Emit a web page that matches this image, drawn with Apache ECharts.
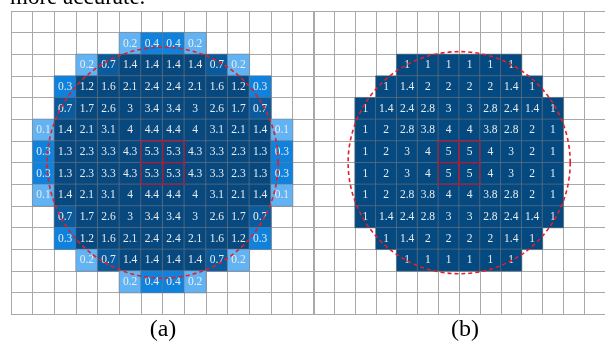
<!DOCTYPE html>
<html>
<head>
<meta charset="utf-8">
<script src="https://cdn.jsdelivr.net/npm/echarts@6/dist/echarts.min.js"></script>
<style>html,body{margin:0;padding:0;background:#fff;}#c{width:605px;height:342px;}</style>
</head>
<body>
<div id="c"></div>
<script>
// Grid categories (14 x 14 cells in each panel)
const cols = ['0','1','2','3','4','5','6','7','8','9','10','11','12','13'];
const rows = ['0','1','2','3','4','5','6','7','8','9','10','11','12','13'];
const _ = null;
// Panel (a) values, row by row (top to bottom)
const a00 = [_,_,_,_,_,_,_,_,_,_,_,_,_,_];
const a01 = [_,_,_,_,_,0.2,0.4,0.4,0.2,_,_,_,_,_];
const a02 = [_,_,_,0.2,0.7,1.4,1.4,1.4,1.4,0.7,0.2,_,_,_];
const a03 = [_,_,0.3,1.2,1.6,2.1,2.4,2.4,2.1,1.6,1.2,0.3,_,_];
const a04 = [_,_,0.7,1.7,2.6,3,3.4,3.4,3,2.6,1.7,0.7,_,_];
const a05 = [_,0.1,1.4,2.1,3.1,4,4.4,4.4,4,3.1,2.1,1.4,0.1,_];
const a06 = [_,0.3,1.3,2.3,3.3,4.3,5.3,5.3,4.3,3.3,2.3,1.3,0.3,_];
const a07 = [_,0.3,1.3,2.3,3.3,4.3,5.3,5.3,4.3,3.3,2.3,1.3,0.3,_];
const a08 = [_,0.1,1.4,2.1,3.1,4,4.4,4.4,4,3.1,2.1,1.4,0.1,_];
const a09 = [_,_,0.7,1.7,2.6,3,3.4,3.4,3,2.6,1.7,0.7,_,_];
const a10 = [_,_,0.3,1.2,1.6,2.1,2.4,2.4,2.1,1.6,1.2,0.3,_,_];
const a11 = [_,_,_,0.2,0.7,1.4,1.4,1.4,1.4,0.7,0.2,_,_,_];
const a12 = [_,_,_,_,_,0.2,0.4,0.4,0.2,_,_,_,_,_];
const a13 = [_,_,_,_,_,_,_,_,_,_,_,_,_,_];
// Panel (b) values
const b00 = [_,_,_,_,_,_,_,_,_,_,_,_,_,_];
const b01 = [_,_,_,_,_,_,_,_,_,_,_,_,_,_];
const b02 = [_,_,_,_,1,1,1,1,1,1,_,_,_,_];
const b03 = [_,_,_,1,1.4,2,2,2,2,1.4,1,_,_,_];
const b04 = [_,_,1,1.4,2.4,2.8,3,3,2.8,2.4,1.4,1,_,_];
const b05 = [_,_,1,2,2.8,3.8,4,4,3.8,2.8,2,1,_,_];
const b06 = [_,_,1,2,3,4,5,5,4,3,2,1,_,_];
const b07 = [_,_,1,2,3,4,5,5,4,3,2,1,_,_];
const b08 = [_,_,1,2,2.8,3.8,4,4,3.8,2.8,2,1,_,_];
const b09 = [_,_,1,1.4,2.4,2.8,3,3,2.8,2.4,1.4,1,_,_];
const b10 = [_,_,_,1,1.4,2,2,2,2,1.4,1,_,_,_];
const b11 = [_,_,_,_,1,1,1,1,1,1,_,_,_,_];
const b12 = [_,_,_,_,_,_,_,_,_,_,_,_,_,_];
const b13 = [_,_,_,_,_,_,_,_,_,_,_,_,_,_];
// Highlighted centre cells [col,row]
const centreCells = [[6,6],[7,6],[6,7],[7,7]];
// Dashed circle: centre (in cell units) and radius (cells)
const circleSpec = [[6.5, 6.5, 5.33]];
const panelLabels = ['(a)', '(b)'];
const topText = 'more accurate.';

const gridA = [a00,a01,a02,a03,a04,a05,a06,a07,a08,a09,a10,a11,a12,a13];
const gridB = [b00,b01,b02,b03,b04,b05,b06,b07,b08,b09,b10,b11,b12,b13];
function toData(g){
  const out=[];
  g.forEach((r,ri)=>r.forEach((v,ci)=>{ if(v!==null) out.push([ci,ri,v]); }));
  return out;
}

const chart = echarts.init(document.getElementById('c'), null, {renderer:'canvas'});
const grids = [
  {left:11, top:11, width:303.33, height:303.33},
  {left:313.33, top:11, width:303.33, height:303.33}
];
function xAx(i){return {type:'category',gridIndex:i,data:cols,axisLine:{show:false},axisTick:{show:false},axisLabel:{show:false},
  splitLine:{show:true,interval:0,lineStyle:{color:'#a9a9a9',width:1}}};}
function yAx(i){return {type:'category',gridIndex:i,data:rows,inverse:true,axisLine:{show:false},axisTick:{show:false},axisLabel:{show:false},
  splitLine:{show:true,interval:0,lineStyle:{color:'#a9a9a9',width:1}}};}
const labelStyle = {show:true,color:'#ececec',fontFamily:'Liberation Serif',fontSize:11.5,
  formatter:p=>String(p.value[2])};

function squaresSeries(i){
  return {type:'custom',xAxisIndex:i,yAxisIndex:i,data:centreCells,z:5,silent:true,
    renderItem:function(params,api){
      const p=api.coord([api.value(0),api.value(1)]);
      const s=api.size([1,1]);
      return {type:'rect',shape:{x:p[0]-s[0]/2,y:p[1]-s[1]/2,width:s[0],height:s[1]},
        style:{fill:'none',stroke:'#a41f3c',lineWidth:1.3}};
    }};
}
function circleSeries(i){
  return {type:'custom',xAxisIndex:i,yAxisIndex:i,data:circleSpec,z:6,silent:true,clip:false,
    renderItem:function(params,api){
      const cx=api.value(0), cy=api.value(1), r=api.value(2);
      const p0=api.coord([Math.floor(cx),Math.floor(cy)]);
      const p1=api.coord([Math.ceil(cx),Math.ceil(cy)]);
      const s=api.size([1,1]);
      return {type:'circle',shape:{cx:(p0[0]+p1[0])/2,cy:(p0[1]+p1[1])/2,r:r*s[0]},
        style:{fill:'none',stroke:'#e0202a',lineWidth:1.6,lineDash:[4,3]}};
    }};
}

chart.setOption({
  animation:false,
  backgroundColor:'#ffffff',
  grid:grids,
  xAxis:[xAx(0),xAx(1)],
  yAxis:[yAx(0),yAx(1)],
  visualMap:[
    {type:'piecewise',show:false,seriesIndex:0,dimension:2,pieces:[
      {lt:0.25,color:'#62b3f3'},
      {gte:0.25,lt:0.5,color:'#0e82dc'},
      {gte:0.5,lt:1,color:'#0a5b9d'},
      {gte:1,color:'#07497f'}]},
    {type:'piecewise',show:false,seriesIndex:1,dimension:2,pieces:[{gte:0,color:'#04497f'}]}
  ],
  series:[
    {type:'heatmap',xAxisIndex:0,yAxisIndex:0,data:toData(gridA),label:labelStyle,
      itemStyle:{borderColor:'rgba(120,120,130,0.55)',borderWidth:1},emphasis:{disabled:true}},
    {type:'heatmap',xAxisIndex:1,yAxisIndex:1,data:toData(gridB),label:labelStyle,
      itemStyle:{borderColor:'rgba(120,120,130,0.55)',borderWidth:1},emphasis:{disabled:true}},
    squaresSeries(0),squaresSeries(1),circleSeries(0),circleSeries(1)
  ],
  graphic:[
    {type:'text',x:10,y:-2,style:{text:topText,fontSize:23,fontFamily:'Liberation Serif',fill:'#000',align:'left',verticalAlign:'middle'}},
    {type:'text',x:163,y:330,style:{text:panelLabels[0],fontSize:24,fontFamily:'Liberation Serif',fill:'#000',align:'center',verticalAlign:'middle'}},
    {type:'text',x:465,y:330,style:{text:panelLabels[1],fontSize:24,fontFamily:'Liberation Serif',fill:'#000',align:'center',verticalAlign:'middle'}}
  ]
});
</script>
</body>
</html>
